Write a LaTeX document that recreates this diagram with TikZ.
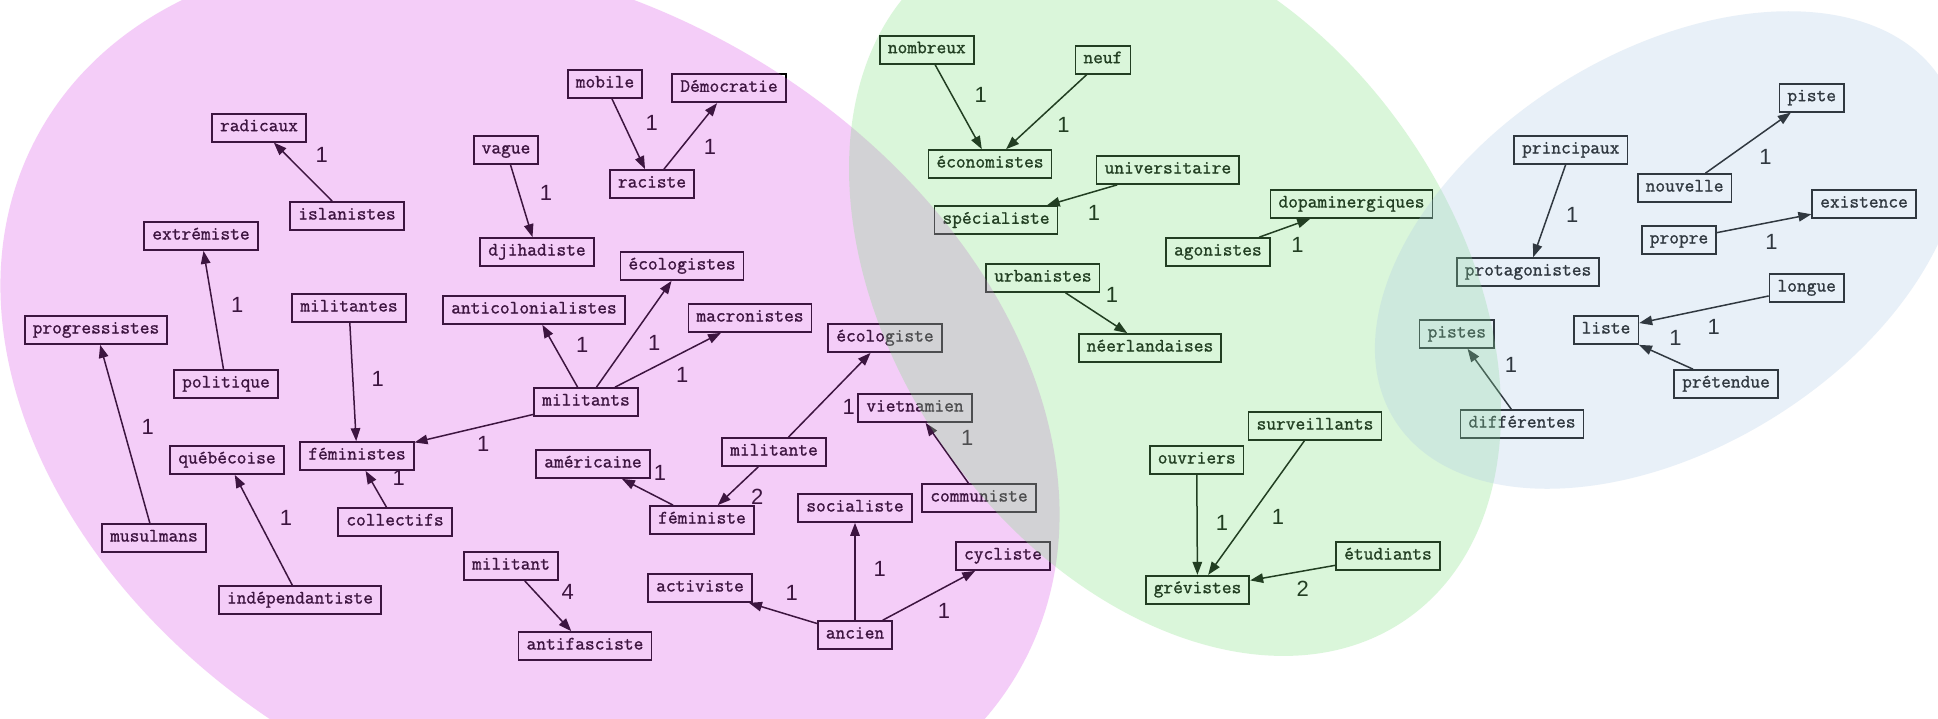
\documentclass[tikz,border=0pt]{standalone}
\usepackage{fontspec}
\setmainfont{Liberation Serif}
\newfontfamily\labfont{Liberation Sans}
\newfontfamily\boxfont[FakeBold=1.2]{Latin Modern Mono}
\usetikzlibrary{arrows.meta}
\definecolor{pinkc}{RGB}{219,76,230}
\definecolor{greenc}{RGB}{123,226,123}
\definecolor{bluec}{RGB}{173,202,230}
\begin{document}
\begin{tikzpicture}[x=1pt,y=-1pt,
  word/.style={draw=black, line width=1.7pt, minimum height=28pt, inner xsep=8pt, inner ysep=0pt,
    text height=7pt, text depth=0pt, font=\boxfont\fontsize{18.9}{20}\selectfont},
  lab/.style={inner sep=0pt, font=\labfont\fontsize{22}{24}\selectfont},
  link/.style={line width=1.5pt, -{Triangle[length=13pt,width=9.5pt]}},
  blob/.style={fill opacity=0.28}]
\useasboundingbox (0,0) rectangle (1938,718);
\clip (0,0) rectangle (1938,718);
\fill[white] (0,0) rectangle (1938,718);

% ---- pink cluster nodes
\node[word] (radicaux) at (259,127.7) {radicaux};
\node[word] (islanistes) at (347,216) {islanistes};
\node[word] (extremiste) at (201,236) {extrémiste};
\node[word] (militantes) at (349,308) {militantes};
\node[word] (progressistes) at (96,330) {progressistes};
\node[word] (politique) at (226,384) {politique};
\node[word] (quebecoise) at (227,460) {québécoise};
\node[word] (feministes) at (357,456) {féministes};
\node[word] (collectifs) at (395,522) {collectifs};
\node[word] (musulmans) at (154,538) {musulmans};
\node[word] (independantiste) at (300,600) {indépendantiste};
\node[word] (mobile) at (605,84) {mobile};
\node[word] (democratie) at (729,88.3) {Démocratie};
\node[word] (vague) at (506,150) {vague};
\node[word] (raciste) at (652,184) {raciste};
\node[word] (djihadiste) at (537,252) {djihadiste};
\node[word] (ecologistes) at (682,266) {écologistes};
\node[word] (anticolonialistes) at (534,310) {anticolonialistes};
\node[word] (macronistes) at (750,318) {macronistes};
\node[word] (militants) at (586,402) {militants};
\node[word] (americaine) at (593,464) {américaine};
\node[word] (militante) at (774,452) {militante};
\node[word] (feministe) at (702,520) {féministe};
\node[word] (militant) at (511,566) {militant};
\node[word] (antifasciste) at (585,646) {antifasciste};
\node[word] (activiste) at (700,588) {activiste};
\node[word] (ecologiste) at (885,338) {écologiste};
\node[word] (vietnamien) at (915,408) {vietnamien};
\node[word] (socialiste) at (855,508) {socialiste};
\node[word] (communiste) at (979,498) {communiste};
\node[word] (cycliste) at (1003,556) {cycliste};
\node[word] (ancien) at (855,635) {ancien};

% ---- green cluster nodes
\node[word] (nombreux) at (926.8,49.7) {nombreux};
\node[word] (neuf) at (1102.9,59.7) {neuf};
\node[word] (economistes) at (990,164) {économistes};
\node[word] (universitaire) at (1167.9,170) {universitaire};
\node[word] (specialiste) at (996,220.3) {spécialiste};
\node[word] (dopaminergiques) at (1351.5,204) {dopaminergiques};
\node[word] (agonistes) at (1217.9,252) {agonistes};
\node[word] (urbanistes) at (1042.9,278) {urbanistes};
\node[word] (neerlandaises) at (1150,348) {néerlandaises};
\node[word] (ouvriers) at (1196.7,460) {ouvriers};
\node[word] (surveillants) at (1315,426) {surveillants};
\node[word] (grevistes) at (1197.5,589.7) {grévistes};
\node[word] (etudiants) at (1388,556) {étudiants};

% ---- blue cluster nodes
\node[word] (piste) at (1811.7,97.7) {piste};
\node[word] (principaux) at (1570.8,150) {principaux};
\node[word] (nouvelle) at (1684.6,188) {nouvelle};
\node[word] (existence) at (1864,204) {existence};
\node[word] (propre) at (1679,240) {propre};
\node[word] (protagonistes) at (1528,272) {protagonistes};
\node[word] (longue) at (1806.7,288) {longue};
\node[word] (liste) at (1606,330) {liste};
\node[word] (pistes) at (1456.8,334) {pistes};
\node[word] (pretendue) at (1726,384) {prétendue};
\node[word] (differentes) at (1522,424) {différentes};

% ---- edges
\draw[link] (islanistes) -- (radicaux);
\draw[link] (politique) -- (extremiste);
\draw[link] (militantes) -- (feministes);
\draw[link] (musulmans) -- (progressistes);
\draw[link] (independantiste) -- (quebecoise);
\draw[link] (collectifs) -- (feministes);
\draw[link] (militants) -- (feministes);
\draw[link] (mobile) -- (raciste);
\draw[link] (raciste) -- (democratie);
\draw[link] (vague) -- (djihadiste);
\draw[link] (militants) -- (anticolonialistes);
\draw[link] (militants) -- (ecologistes);
\draw[link] (militants) -- (macronistes);
\draw[link] (feministe) -- (americaine);
\draw[link] (militante) -- (feministe);
\draw[link] (militante) -- (ecologiste);
\draw[link] (communiste) -- (vietnamien);
\draw[link] (militant) -- (antifasciste);
\draw[link] (ancien) -- (activiste);
\draw[link] (ancien) -- (socialiste);
\draw[link] (ancien) -- (cycliste);
\draw[link] (nombreux) -- (economistes);
\draw[link] (neuf) -- (economistes);
\draw[link] (universitaire) -- (specialiste);
\draw[link] (agonistes) -- (dopaminergiques);
\draw[link] (urbanistes) -- (neerlandaises);
\draw[link] (ouvriers) -- (grevistes);
\draw[link] (surveillants) -- (grevistes);
\draw[link] (etudiants) -- (grevistes);
\draw[link] (nouvelle) -- (piste);
\draw[link] (principaux) -- (protagonistes);
\draw[link] (propre) -- (existence);
\draw[link] (longue) -- (liste);
\draw[link] (pretendue) -- (liste);
\draw[link] (differentes) -- (pistes);

% ---- edge labels
\node[lab] (l1) at (321.7,155) {1};
\node[lab] (l2) at (237.3,305) {1};
\node[lab] (l3) at (377.7,379.3) {1};
\node[lab] (l4) at (147.7,426.7) {1};
\node[lab] (l5) at (286,518.3) {1};
\node[lab] (l6) at (398.7,478.3) {1};
\node[lab] (l7) at (483.3,444) {1};
\node[lab] (l8) at (651.7,123.3) {1};
\node[lab] (l9) at (710,146.7) {1};
\node[lab] (l10) at (546,193.3) {1};
\node[lab] (l11) at (582.3,345) {1};
\node[lab] (l12) at (654.3,343.3) {1};
\node[lab] (l13) at (682.3,375) {1};
\node[lab] (l14) at (660,472.7) {1};
\node[lab] (l15) at (757.3,496.7) {2};
\node[lab] (l16) at (848.7,406.7) {1};
\node[lab] (l17) at (967.3,438.3) {1};
\node[lab] (l18) at (567.7,592.3) {4};
\node[lab] (l19) at (791.7,593.3) {1};
\node[lab] (l20) at (879.7,569.3) {1};
\node[lab] (l21) at (944.1,610.7) {1};
\node[lab] (l22) at (980.7,95) {1};
\node[lab] (l23) at (1063.6,125) {1};
\node[lab] (l24) at (1093.9,213.3) {1};
\node[lab] (l25) at (1297.5,245) {1};
\node[lab] (l26) at (1112.1,295) {1};
\node[lab] (l27) at (1221.9,522.7) {1};
\node[lab] (l28) at (1277.9,517.3) {1};
\node[lab] (l29) at (1302.7,589.3) {2};
\node[lab] (l30) at (1765.4,157.3) {1};
\node[lab] (l31) at (1572.2,215) {1};
\node[lab] (l32) at (1771.5,241.7) {1};
\node[lab] (l33) at (1713.8,327.3) {1};
\node[lab] (l34) at (1675.4,337.7) {1};
\node[lab] (l35) at (1511,365) {1};

% ---- translucent clusters drawn over everything
\fill[pinkc, blob, rotate around={-28:(530,400)}] (530,400) ellipse [x radius=559pt, y radius=408pt];
\fill[greenc, blob, rotate around={-54.6:(1175,290)}] (1175,290) ellipse [x radius=402.5pt, y radius=279.5pt];
\fill[bluec, blob, rotate around={31.7:(1668,250)}] (1668,250) ellipse [x radius=322pt, y radius=198pt];
\end{tikzpicture}
\end{document}
